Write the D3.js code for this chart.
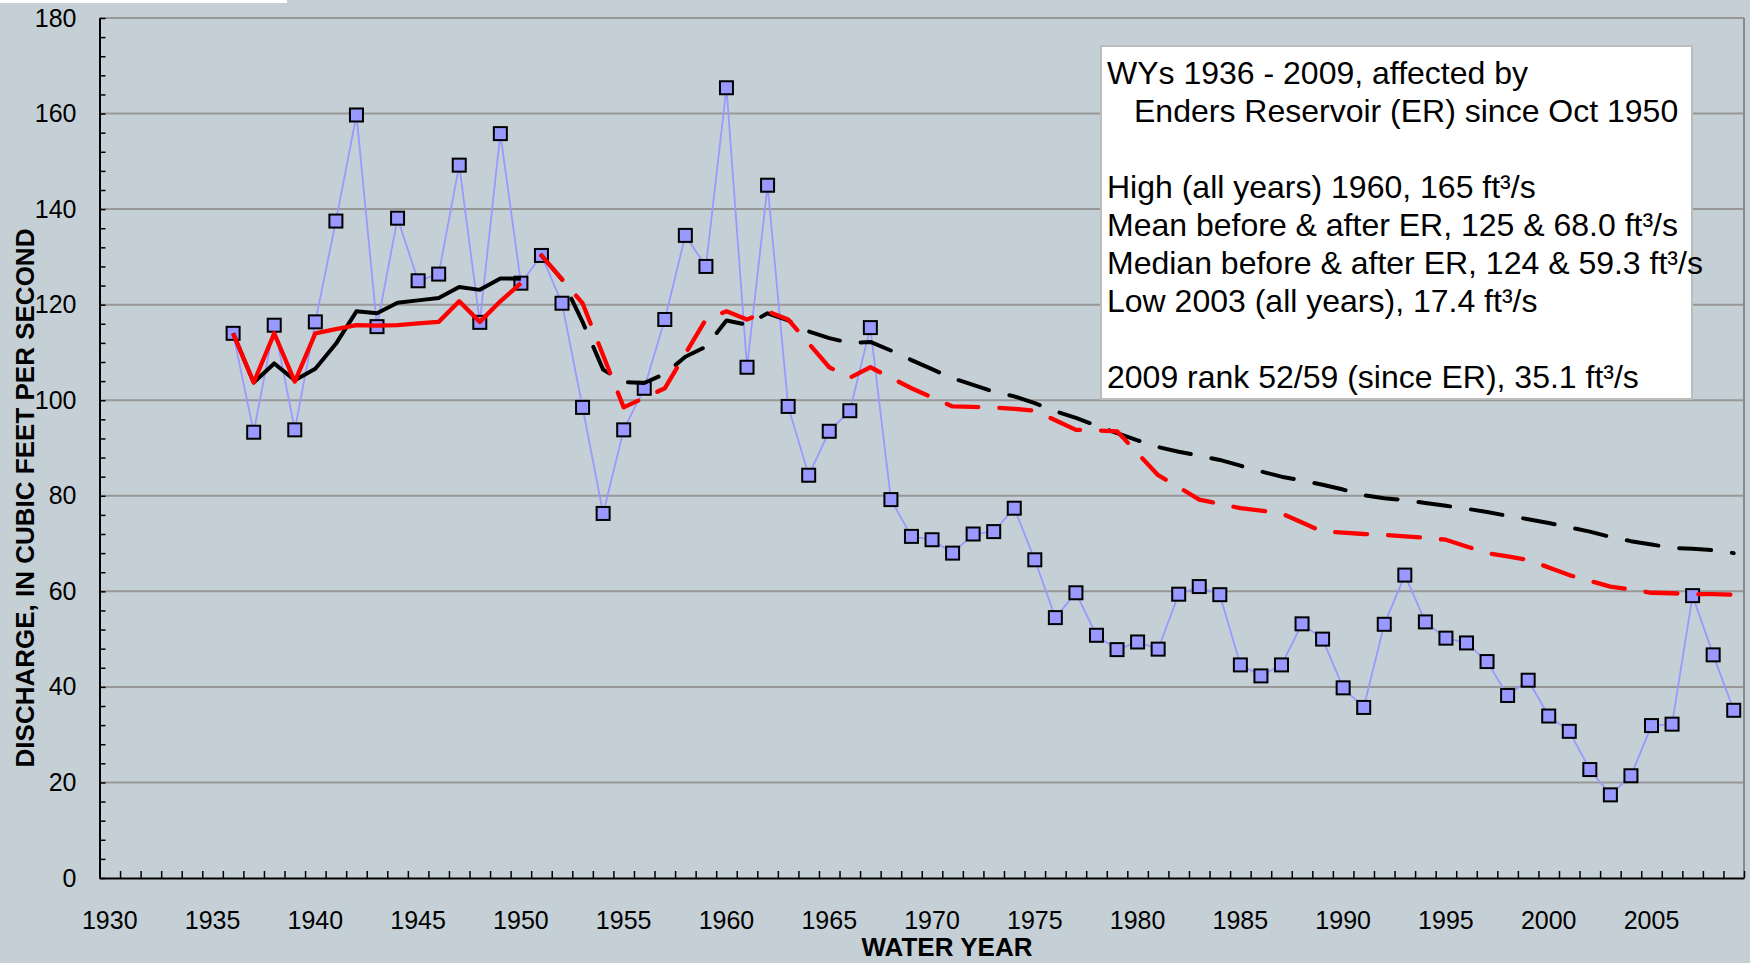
<!DOCTYPE html>
<html>
<head>
<meta charset="utf-8">
<script src="https://cdn.jsdelivr.net/npm/d3@7/dist/d3.min.js"></script>
<style>
  html, body { margin: 0; padding: 0; background: #c5d0d6; }
  svg { display: block; }
  text { font-family: "Liberation Sans", Arial, Helvetica, sans-serif; }
</style>
</head>
<body>
<svg id="chart" width="1750" height="963"></svg>
<script>
// ---------------- DATA ----------------
const axisYears = [1930,1931,1932,1933,1934,1935,1936,1937,1938,1939,1940,1941,1942,1943,1944,1945,1946,1947,1948,1949,
  1950,1951,1952,1953,1954,1955,1956,1957,1958,1959,1960,1961,1962,1963,1964,1965,1966,1967,1968,1969,
  1970,1971,1972,1973,1974,1975,1976,1977,1978,1979,1980,1981,1982,1983,1984,1985,1986,1987,1988,1989,
  1990,1991,1992,1993,1994,1995,1996,1997,1998,1999,2000,2001,2002,2003,2004,2005,2006,2007,2008,2009];

const xTickLabels = [1930,1935,1940,1945,1950,1955,1960,1965,1970,1975,1980,1985,1990,1995,2000,2005];
const yTickLabels = [0,20,40,60,80,100,120,140,160,180];

const dataYears = [1936,1937,1938,1939,1940,1941,1942,1943,1944,1945,1946,1947,1948,1949,1950,
  1951,1952,1953,1954,1955,1956,1957,1958,1959,1960,1961,1962,1963,1964,1965,1966,1967,1968,1969,
  1970,1971,1972,1973,1974,1975,1976,1977,1978,1979,1980,1981,1982,1983,1984,1985,1986,1987,1988,1989,
  1990,1991,1992,1993,1994,1995,1996,1997,1998,1999,2000,2001,2002,2003,2004,2005,2006,2007,2008,2009];

// Annual mean discharge, ft3/s
const discharge = [114.0,93.3,115.7,93.8,116.4,137.5,159.7,115.4,138.1,125.0,126.4,149.2,116.3,155.8,124.5,
  130.3,120.3,98.5,76.3,93.8,102.5,116.9,134.5,128.0,165.4,106.9,145.0,98.7,84.3,93.5,97.8,115.2,79.2,71.5,
  70.8,68.0,72.0,72.5,77.4,66.6,54.5,59.7,50.8,47.8,49.4,47.9,59.4,61.0,59.3,44.6,42.3,44.6,53.2,50.0,
  39.8,35.7,53.1,63.4,53.6,50.2,49.2,45.3,38.2,41.4,33.9,30.7,22.7,17.4,21.4,31.9,32.2,59.1,46.7,35.1];

// Before Enders Reservoir (WY 1936-1950)
const yearsBefore = [1936,1937,1938,1939,1940,1941,1942,1943,1944,1945,1946,1947,1948,1949,1950];
const meanBefore   = [114.0,103.7,107.7,104.2,106.6,111.8,118.6,118.2,120.4,120.9,121.4,123.7,123.1,125.5,125.4];
const medianBefore = [114.0,103.7,114.0,103.9,114.0,114.9,115.7,115.6,115.7,116.1,116.4,120.7,116.4,120.7,124.5];

// After Enders Reservoir (WY 1951-2009)
const yearsAfter = [1951,1952,1953,1954,1955,1956,1957,1958,1959,1960,1961,1962,1963,1964,1965,1966,1967,1968,1969,
  1970,1971,1972,1973,1974,1975,1976,1977,1978,1979,1980,1981,1982,1983,1984,1985,1986,1987,1988,1989,
  1990,1991,1992,1993,1994,1995,1996,1997,1998,1999,2000,2001,2002,2003,2004,2005,2006,2007,2008,2009];
const meanAfter = [130.3,125.3,116.4,106.4,103.8,103.6,105.5,109.1,111.2,116.7,
  115.8,118.2,116.7,114.4,113.0,112.0,112.2,110.4,108.4,106.5,
  104.6,103.2,101.8,100.8,99.4,97.7,96.3,94.7,93.1,91.6,
  90.2,89.2,88.4,87.5,86.3,85.1,84.0,83.2,82.3,81.3,
  80.1,79.5,79.1,78.5,77.9,77.3,76.6,75.8,75.1,74.3,
  73.4,72.5,71.4,70.5,69.8,69.1,68.9,68.6,68.0];
const medianAfter = [130.3,125.3,120.3,109.4,98.5,100.5,102.5,109.7,116.9,118.6,
  116.9,118.6,116.9,111.9,106.9,104.7,106.9,104.7,102.5,100.6,
  98.7,98.6,98.5,98.2,97.8,95.8,93.8,93.7,93.5,88.9,
  84.3,81.8,79.2,78.3,77.4,76.9,76.3,74.4,72.5,72.3,
  72.0,71.8,71.5,71.2,70.8,69.4,68.0,67.3,66.6,65.0,
  63.4,62.2,61.0,60.4,59.7,59.6,59.4,59.4,59.3];

const noteLines = [
  {text: "WYs 1936 - 2009, affected by", indent: 0, row: 0},
  {text: "Enders Reservoir (ER) since Oct 1950", indent: 1, row: 1},
  {text: "High (all years) 1960, 165 ft\u00B3/s", indent: 0, row: 3},
  {text: "Mean before & after ER, 125 & 68.0 ft\u00B3/s", indent: 0, row: 4},
  {text: "Median before & after ER, 124 & 59.3 ft\u00B3/s", indent: 0, row: 5},
  {text: "Low 2003 (all years), 17.4 ft\u00B3/s", indent: 0, row: 6},
  {text: "2009 rank 52/59 (since ER), 35.1 ft\u00B3/s", indent: 0, row: 8}
];

// ---------------- CHART ----------------
const svg = d3.select("#chart");
const W = 1750, H = 963;
const plot = {left: 99.5, right: 1744, top: 18, bottom: 878};

svg.append("rect").attr("width", W).attr("height", H).attr("fill", "#c5d0d6");
// cropped title strip at top-left
svg.append("rect").attr("x", 0).attr("y", 0).attr("width", 287).attr("height", 3).attr("fill", "#ffffff");

const x = d3.scaleBand().domain(axisYears).range([plot.left, plot.right]).padding(0);
const xEdge = d3.scaleLinear().domain([1930, 2010]).range([plot.left, plot.right]);
const y = d3.scaleLinear().domain([0, 180]).range([plot.bottom, plot.top]);
const cx = yr => x(yr) + x.bandwidth() / 2;

// gridlines
svg.append("g").selectAll("line").data(yTickLabels.filter(v => v > 0)).join("line")
  .attr("x1", plot.left).attr("x2", plot.right)
  .attr("y1", d => y(d)).attr("y2", d => y(d))
  .attr("stroke", "#979797").attr("stroke-width", 2);

// right border of plot area
svg.append("line").attr("x1", plot.right).attr("x2", plot.right)
  .attr("y1", plot.top).attr("y2", plot.bottom)
  .attr("stroke", "#8a8a8a").attr("stroke-width", 2);

// Y axis: minor inward ticks every 4
const yMinor = [];
for (let v = 0; v <= 180; v += 4) yMinor.push(v);
const gyTicks = svg.append("g").attr("transform", `translate(${plot.left},0)`)
  .call(d3.axisLeft(y).tickValues(yMinor).tickSizeInner(-6).tickSizeOuter(0).tickFormat(""));
gyTicks.select(".domain").attr("stroke", "#000").attr("stroke-width", 2);
gyTicks.selectAll(".tick line").attr("stroke", "#000").attr("stroke-width", 1.5);

// Y axis labels
const gyLab = svg.append("g").attr("transform", `translate(${plot.left},0)`)
  .call(d3.axisLeft(y).tickValues(yTickLabels).tickSize(0).tickPadding(23));
gyLab.select(".domain").remove();
gyLab.selectAll("text").attr("font-size", 25).attr("fill", "#000")
  .attr("font-family", '"Liberation Sans", Arial, sans-serif');

// X axis ticks at category boundaries
const edgeYears = [];
for (let yr = 1930; yr <= 2010; yr++) edgeYears.push(yr);
const gxTicks = svg.append("g").attr("transform", `translate(0,${plot.bottom})`)
  .call(d3.axisBottom(xEdge).tickValues(edgeYears).tickSizeInner(-7).tickSizeOuter(0).tickFormat(""));
gxTicks.select(".domain").attr("stroke", "#000").attr("stroke-width", 2);
gxTicks.selectAll(".tick line").attr("stroke", "#000").attr("stroke-width", 1.5);

// X axis labels
const gxLab = svg.append("g").attr("transform", `translate(0,${plot.bottom})`)
  .call(d3.axisBottom(x).tickValues(xTickLabels).tickSize(0).tickPadding(33));
gxLab.select(".domain").remove();
gxLab.selectAll("text").attr("font-size", 25).attr("fill", "#000")
  .attr("font-family", '"Liberation Sans", Arial, sans-serif');

// Annual series
const pts = dataYears.map((yr, i) => ({yr, v: discharge[i]}));
const lineGen = d3.line().x(d => cx(d.yr)).y(d => y(d.v));
svg.append("path").datum(pts).attr("d", lineGen)
  .attr("fill", "none").attr("stroke", "#9999ff").attr("stroke-width", 1.8);
const ms = 13;
svg.append("g").selectAll("rect").data(pts).join("rect")
  .attr("x", d => cx(d.yr) - ms / 2).attr("y", d => y(d.v) - ms / 2)
  .attr("width", ms).attr("height", ms)
  .attr("fill", "#9999ff").attr("stroke", "#000").attr("stroke-width", 2);

function drawLine(yrs, vals, color, width, dashed) {
  const d = yrs.map((yr, i) => ({yr, v: vals[i]}));
  const p = svg.append("path").datum(d).attr("d", lineGen)
    .attr("fill", "none").attr("stroke", color).attr("stroke-width", width)
    .attr("stroke-linejoin", "round");
  if (dashed) p.attr("stroke-dasharray", "32,21").attr("stroke-linecap", "round");
  return p;
}
drawLine(yearsBefore, meanBefore, "#000000", 4, false);
drawLine(yearsAfter, meanAfter, "#000000", 4, true);
drawLine(yearsBefore, medianBefore, "#ff0000", 4.3, false);
drawLine(yearsAfter, medianAfter, "#ff0000", 4.3, true);

// Annotation box
svg.append("rect").attr("x", 1101).attr("y", 46).attr("width", 591).attr("height", 353)
  .attr("fill", "#ffffff").attr("stroke", "#bcbcbc").attr("stroke-width", 2);
svg.append("g").selectAll("text").data(noteLines).join("text")
  .attr("x", d => 1107 + d.indent * 27)
  .attr("y", d => 84 + d.row * 38)
  .attr("font-size", 32).attr("fill", "#000")
  .text(d => d.text);

// Axis titles
svg.append("text").attr("x", 947).attr("y", 956).attr("text-anchor", "middle")
  .attr("font-size", 26).attr("font-weight", "bold").attr("fill", "#000")
  .text("WATER YEAR");
svg.append("text").attr("transform", "translate(34,498) rotate(-90)")
  .attr("text-anchor", "middle")
  .attr("font-size", 26).attr("font-weight", "bold").attr("fill", "#000")
  .text("DISCHARGE, IN CUBIC FEET PER SECOND");
</script>
</body>
</html>
